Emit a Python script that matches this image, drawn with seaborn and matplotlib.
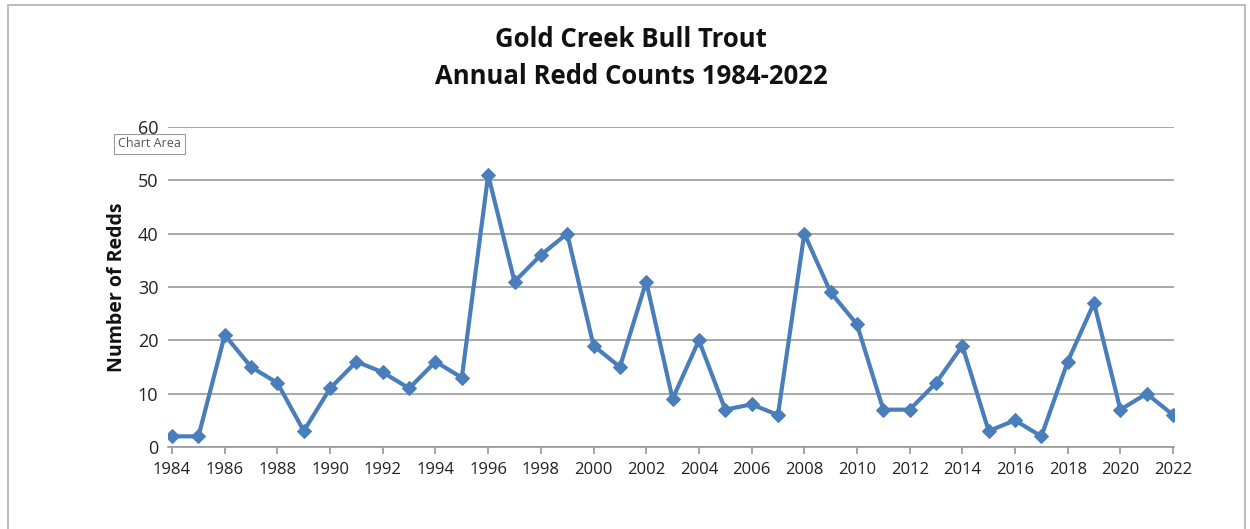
import matplotlib
matplotlib.use("Agg")
import matplotlib.pyplot as plt
import seaborn as sns
import pandas as pd
from matplotlib.patches import Rectangle

years = list(range(1984, 2023))
redds = [2, 2, 21, 15, 12, 3, 11, 16, 14, 11, 16, 13, 51, 31, 36, 40, 19, 15, 31, 9,
         20, 7, 8, 6, 40, 29, 23, 7, 7, 12, 19, 3, 5, 2, 16, 27, 7, 10, 6]
xtick_labels = [str(y) for y in range(1984, 2023, 2)]
yticks = [0, 10, 20, 30, 40, 50, 60]

df = pd.DataFrame({"Year": years, "Redds": redds})

sns.set_theme(style="white")
plt.rcParams['font.family'] = ['Open Sans', 'DejaVu Sans']

fig = plt.figure(figsize=(12.5, 5.29), dpi=100)
ax = fig.add_axes([0.1345, 0.155, 0.805, 0.605])

color = "#4A7EBB"
sns.lineplot(data=df, x="Year", y="Redds", ax=ax, color=color, linewidth=3,
             marker="D", markersize=7, markeredgecolor=color, markerfacecolor=color)

ax.set_xlim(1983.85, 2022.05)
ax.set_ylim(0, 60)
ax.set_yticks(yticks)
ax.set_yticklabels([str(v) for v in yticks], fontsize=13)
ax.set_xticks(list(range(1984, 2023, 2)))
ax.set_xticklabels(xtick_labels, fontsize=12)
ax.yaxis.grid(True, color="#9a9a9a", linewidth=1.2)
ax.set_axisbelow(True)
for s in ["top", "right", "left"]:
    ax.spines[s].set_visible(False)
ax.spines["bottom"].set_color("#9a9a9a")
ax.spines["bottom"].set_linewidth(1.2)
ax.tick_params(axis="x", which="major", direction="out", length=5, color="#9a9a9a",
               bottom=True, pad=6, labelcolor="#222222")
ax.tick_params(axis="y", length=0, pad=7, labelcolor="#222222")
ax.set_xlabel("")
ax.set_ylabel("Number of Redds", fontsize=14, fontweight="bold", color="#111111", labelpad=8)

fig.text(0.505, 0.925, "Gold Creek Bull Trout", ha="center", va="center",
         fontsize=18.5, fontweight="bold", color="#111111")
fig.text(0.505, 0.855, "Annual Redd Counts 1984-2022", ha="center", va="center",
         fontsize=18.5, fontweight="bold", color="#111111")

fig.text(0.0945, 0.728, "Chart Area", ha="left", va="center", fontsize=9, color="#555555",
         bbox=dict(boxstyle="square,pad=0.3", facecolor="white", edgecolor="#999999", linewidth=0.8))

fig.patches.append(Rectangle((0.006, -0.01), 0.99, 1.0, transform=fig.transFigure,
                             fill=False, edgecolor="#b0b0b0", linewidth=1.2))

fig.savefig("out.png", dpi=100)
